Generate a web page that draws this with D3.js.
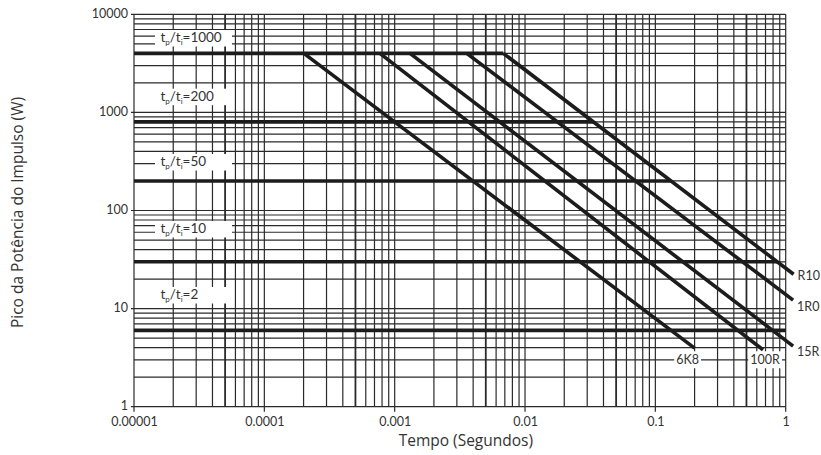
<!DOCTYPE html>
<html>
<head>
<meta charset="utf-8">
<script src="https://cdn.jsdelivr.net/npm/d3@7"></script>
<style>
  body { margin: 0; background: #fff; }
  svg { display: block; }
</style>
</head>
<body>
<svg id="chart" width="821" height="455"></svg>
<script>
// Pulse power derating curves per resistor value (log–log chart)
const seriesNames = ["6K8", "100R", "15R", "1R0", "R10"];
const kneeTimes   = [2.01e-4, 7.7e-4, 1.31e-3, 3.57e-3, 6.82e-3];
const kneePower   = [4000, 4000, 4000, 4000, 4000];
const endTimes    = [0.2, 0.67, 1.14, 1.14, 1.15];
const endPower    = [3.95, 3.8, 4.15, 12.2, 22.4];

// Duty-cycle levels (tp/ti) and the peak power drawn for each
const dutyRatios = ["1000", "200", "50", "10", "2"];
const dutyPower  = [4000, 800, 200, 30, 6];

const xTickValues = [1e-5, 1e-4, 1e-3, 1e-2, 1e-1, 1];
const xTickLabels = ["0.00001", "0.0001", "0.001", "0.01", "0.1", "1"];
const yTickValues = [1, 10, 100, 1000, 10000];
const yTickLabels = ["1", "10", "100", "1000", "10000"];

const xTitle = "Tempo (Segundos)";
const yTitle = "Pico da Potência do Impulso (W)";

// ---- layout ----
const plot = { left: 134, right: 785.7, top: 14.3, bottom: 406.7 };
const ratioBaselines = [42, 100.7, 166, 233, 299];
const ratioBox = { x0: 155, x1: 232, textX: 160.5 };
const ink = "#1c1c1c";
const gridInk = "#2a2a2a";

const svg = d3.select("#chart");

const x = d3.scaleLog()
  .domain([xTickValues[0], xTickValues[xTickValues.length - 1]])
  .range([plot.left, plot.right]);
const y = d3.scaleLog()
  .domain([yTickValues[0], yTickValues[yTickValues.length - 1]])
  .range([plot.bottom, plot.top]);

const lg = Math.log10;
const isDecade = v => Math.abs(lg(v) - Math.round(lg(v))) < 1e-6;
const mantissa = v => Math.round(v / Math.pow(10, Math.floor(lg(v) + 1e-9)));

// ---- grid ----
const grid = svg.append("g").attr("fill", "none");
grid.selectAll("line.gv").data(x.ticks()).join("line")
  .attr("class", "gv")
  .attr("x1", d => x(d)).attr("x2", d => x(d))
  .attr("y1", plot.top)
  .attr("y2", d => isDecade(d) ? plot.bottom + 5 : plot.bottom)
  .attr("stroke", gridInk)
  .attr("stroke-width", d => mantissa(d) === 5 ? 1.8 : 1.2);

grid.selectAll("line.gh").data(y.ticks()).join("line")
  .attr("class", "gh")
  .attr("y1", d => y(d)).attr("y2", d => y(d))
  .attr("x1", d => isDecade(d) ? plot.left - 3 : plot.left)
  .attr("x2", plot.right)
  .attr("stroke", gridInk)
  .attr("stroke-width", 1.2);

// ---- axes (labels only; grid draws the lines) ----
const xAxis = svg.append("g")
  .attr("transform", `translate(0,${plot.bottom})`)
  .call(d3.axisBottom(x).tickValues(xTickValues)
    .tickFormat((d, i) => xTickLabels[i]).tickSize(5).tickPadding(5));
const yAxis = svg.append("g")
  .attr("transform", `translate(${plot.left},0)`)
  .call(d3.axisLeft(y).tickValues(yTickValues)
    .tickFormat((d, i) => yTickLabels[i]).tickSize(3).tickPadding(3));
[xAxis, yAxis].forEach(g => {
  g.select(".domain").remove();
  g.selectAll(".tick line").remove();
  g.selectAll("text")
    .attr("font-family", "Lato, 'Liberation Sans', sans-serif")
    .attr("font-size", 12.5)
    .attr("fill", "#333");
});
yAxis.selectAll("text").attr("dy", "0.22em");

// ---- duty-cycle thick lines: from the left edge to the R10 curve ----
const lastIdx = seriesNames.length - 1;
function limitTime(p) {
  const k = kneeTimes[lastIdx], kp = kneePower[lastIdx];
  const e = endTimes[lastIdx], ep = endPower[lastIdx];
  if (p >= kp) return k;
  const f = (lg(kp) - lg(p)) / (lg(kp) - lg(ep));
  if (f > 1) return x.domain()[1];
  return Math.pow(10, lg(k) + f * (lg(e) - lg(k)));
}
svg.append("g").selectAll("line").data(dutyPower).join("line")
  .attr("x1", x(x.domain()[0]))
  .attr("x2", d => x(limitTime(d)))
  .attr("y1", d => y(d)).attr("y2", d => y(d))
  .attr("stroke", ink).attr("stroke-width", 3.6);

// ---- tp/ti labels on white boxes ----
const ratioG = svg.append("g")
  .attr("font-family", "Lato, 'Liberation Sans', sans-serif")
  .attr("fill", "#333");
dutyRatios.forEach((r, i) => {
  const b = ratioBaselines[i];
  ratioG.append("rect")
    .attr("x", ratioBox.x0).attr("y", b - 12)
    .attr("width", ratioBox.x1 - ratioBox.x0).attr("height", 16.5)
    .attr("fill", "#fff");
  const t = ratioG.append("text")
    .attr("x", ratioBox.textX).attr("y", b)
    .attr("font-size", 13.5);
  t.append("tspan").text("t");
  t.append("tspan").attr("font-size", 8).attr("dy", 3).text("p");
  t.append("tspan").attr("dy", -3).text("/t");
  t.append("tspan").attr("font-size", 8).attr("dy", 3).text("i");
  t.append("tspan").attr("dy", -3).text("=" + r);
});

// ---- derating curves ----
const curves = seriesNames.map((name, i) => ({
  name,
  pts: [[kneeTimes[i], kneePower[i]], [endTimes[i], endPower[i]]]
}));
const line = d3.line().x(d => x(d[0])).y(d => y(d[1]));
svg.append("g").selectAll("path").data(curves).join("path")
  .attr("d", d => line(d.pts))
  .attr("fill", "none")
  .attr("stroke", ink)
  .attr("stroke-width", 3.6);

// ---- curve labels ----
const labelG = svg.append("g")
  .attr("font-family", "Lato, 'Liberation Sans', sans-serif")
  .attr("font-size", 12.5)
  .attr("fill", "#333");
// labels at the lower end of each curve; two of them sit on the 3 W grid line
const labelPlacement = {
  "6K8":  { dx: -7, onGrid: 3, anchor: "middle", box: true },
  "100R": { dx: 2,  onGrid: 3, anchor: "middle", box: true },
  "15R":  { dx: 4,  dy: 6, anchor: "start" },
  "1R0":  { dx: 4,  dy: 6, anchor: "start" },
  "R10":  { dx: 4,  dy: 1, anchor: "start" }
};
curves.forEach(c => {
  const p = labelPlacement[c.name];
  const end = c.pts[c.pts.length - 1];
  const lx = x(end[0]) + p.dx;
  const ly = p.onGrid ? y(p.onGrid) : y(end[1]) + p.dy;
  const t = labelG.append("text")
    .attr("x", lx).attr("y", ly)
    .attr("dy", "0.35em")
    .attr("text-anchor", p.anchor)
    .text(c.name);
  if (p.box) {
    const bb = t.node().getBBox();
    labelG.insert("rect", () => t.node())
      .attr("x", bb.x - 2).attr("y", bb.y - 1)
      .attr("width", bb.width + 4).attr("height", bb.height + 2)
      .attr("fill", "#fff");
  }
});

// ---- axis titles ----
svg.append("text")
  .attr("x", (plot.left + plot.right) / 2 + 6).attr("y", 446)
  .attr("text-anchor", "middle")
  .attr("font-family", "'Open Sans', sans-serif")
  .attr("font-size", 15.5).attr("fill", "#333")
  .text(xTitle);
svg.append("text")
  .attr("transform", `translate(23,${(plot.top + plot.bottom) / 2 + 2}) rotate(-90)`)
  .attr("text-anchor", "middle")
  .attr("font-family", "'Open Sans', sans-serif")
  .attr("font-size", 15.5).attr("fill", "#333")
  .text(yTitle);
</script>
</body>
</html>
